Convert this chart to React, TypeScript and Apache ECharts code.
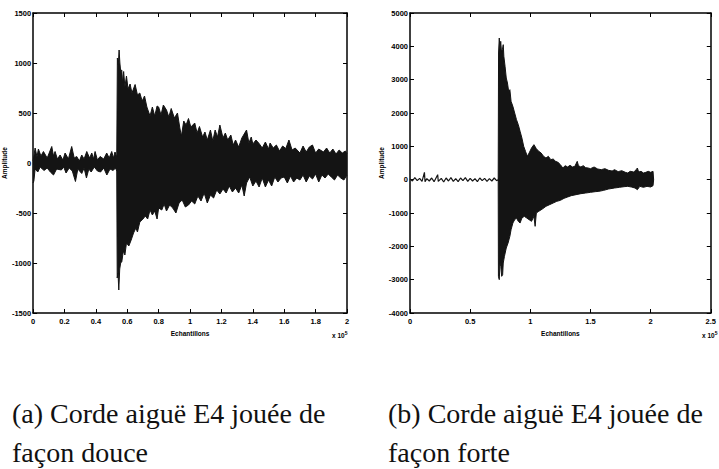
import React, { useEffect, useRef } from "react";
import * as echarts from "echarts";

// ---- Data (x in units of 10^5 samples, amplitude) ----
const leftXTicks = { min: 0, max: 2, interval: 0.2 };
const leftYTicks = { min: -1500, max: 1500, interval: 500 };
const rightXTicks = { min: 0, max: 2.5, interval: 0.5 };
const rightYTicks = { min: -4000, max: 5000, interval: 1000 };

const captionA = ["(a) Corde aiguë E4 jouée de", "façon douce"];
const captionB = ["(b) Corde aiguë E4 jouée de", "façon forte"];

// left plot (soft): upper / lower envelope of the waveform
const leftUpper: [number, number][] = [
  [0, 20], [0.013, 150], [0.025, 60], [0.034, 140], [0.05, 70], [0.066, 115], [0.09, 50], [0.119, 165],
  [0.13, 70], [0.14, 115], [0.155, 40], [0.172, 80], [0.19, 30], [0.204, 100], [0.225, 40], [0.246, 165],
  [0.262, 50], [0.278, 65], [0.295, 20], [0.31, 80], [0.325, 40], [0.342, 115], [0.36, 50], [0.374, 100],
  [0.385, 40], [0.395, 115], [0.41, 30], [0.427, 65], [0.45, 40], [0.469, 100], [0.485, 50], [0.501, 115],
  [0.512, 50], [0.522, 110], [0.533, 60],
  [0.537, 1050], [0.543, 980], [0.548, 1130], [0.553, 1000], [0.558, 920], [0.565, 930], [0.57, 800],
  [0.577, 915], [0.585, 760], [0.595, 870], [0.605, 740], [0.618, 790], [0.63, 700], [0.65, 785],
  [0.665, 680], [0.68, 700], [0.695, 620], [0.71, 670], [0.725, 560], [0.745, 470], [0.76, 560],
  [0.775, 470], [0.79, 570], [0.8, 560], [0.815, 480], [0.83, 580], [0.85, 530], [0.865, 460],
  [0.88, 545], [0.9, 450], [0.92, 500], [0.935, 350], [0.945, 270], [0.96, 420], [0.975, 380],
  [0.99, 445], [1.005, 360], [1.03, 400], [1.045, 300], [1.06, 365], [1.08, 260], [1.095, 310],
  [1.11, 230], [1.13, 330], [1.145, 220], [1.16, 330], [1.175, 260], [1.19, 380], [1.21, 250],
  [1.225, 300], [1.24, 230], [1.26, 280], [1.275, 180], [1.29, 230], [1.31, 160], [1.33, 250],
  [1.36, 330], [1.375, 200], [1.39, 260], [1.4, 190], [1.42, 230], [1.44, 195], [1.46, 150],
  [1.48, 210], [1.5, 140], [1.51, 200], [1.53, 150], [1.55, 180], [1.57, 120], [1.59, 170],
  [1.61, 145], [1.63, 230], [1.65, 130], [1.67, 150], [1.7, 100], [1.72, 170], [1.74, 110],
  [1.76, 160], [1.78, 180], [1.8, 100], [1.82, 140], [1.85, 110], [1.87, 150], [1.89, 100],
  [1.91, 140], [1.93, 90], [1.95, 130], [1.97, 100], [1.99, 120], [2.0, 90],
];
const leftLower: [number, number][] = [
  [0, -200], [0.005, -180], [0.013, -60], [0.03, -90], [0.045, -40], [0.07, -75], [0.09, -50],
  [0.11, -90], [0.13, -120], [0.15, -60], [0.18, -70], [0.195, -40], [0.21, -100], [0.23, -50],
  [0.25, -80], [0.27, -185], [0.285, -60], [0.31, -105], [0.325, -50], [0.34, -150], [0.355, -60],
  [0.37, -90], [0.39, -40], [0.41, -80], [0.43, -90], [0.45, -50], [0.47, -120], [0.49, -60],
  [0.51, -75], [0.525, -50], [0.533, -80],
  [0.536, -1150], [0.541, -1100], [0.546, -1270], [0.552, -1060], [0.558, -1000], [0.565, -990],
  [0.575, -880], [0.585, -920], [0.595, -800], [0.61, -830], [0.625, -770], [0.64, -700],
  [0.655, -650], [0.665, -690], [0.68, -590], [0.7, -560], [0.715, -530], [0.73, -560],
  [0.745, -470], [0.76, -520], [0.775, -480], [0.79, -560], [0.8, -450], [0.82, -470],
  [0.835, -410], [0.85, -480], [0.87, -420], [0.89, -450], [0.91, -500], [0.93, -400],
  [0.95, -370], [0.97, -440], [0.99, -420], [1.01, -380], [1.03, -410], [1.05, -330],
  [1.07, -380], [1.09, -300], [1.11, -400], [1.13, -320], [1.15, -350], [1.17, -270],
  [1.19, -310], [1.21, -260], [1.23, -300], [1.25, -230], [1.27, -290], [1.29, -250],
  [1.31, -300], [1.33, -220], [1.345, -330], [1.36, -200], [1.38, -140], [1.4, -230],
  [1.42, -180], [1.44, -240], [1.46, -150], [1.48, -240], [1.5, -170], [1.52, -230],
  [1.54, -140], [1.56, -190], [1.58, -150], [1.6, -140], [1.62, -200], [1.64, -130],
  [1.66, -190], [1.68, -150], [1.7, -170], [1.72, -120], [1.74, -190], [1.76, -130],
  [1.78, -160], [1.8, -110], [1.82, -190], [1.84, -120], [1.86, -150], [1.88, -110],
  [1.9, -140], [1.92, -170], [1.94, -120], [1.96, -150], [1.98, -170], [2.0, -120],
];

// right plot (strong)
const rightPre: [number, number][] = [
  [0, 20], [0.02, -40], [0.04, 60], [0.06, -30], [0.08, 40], [0.1, -50], [0.12, 220], [0.125, -60],
  [0.14, 30], [0.16, -40], [0.18, 50], [0.2, -60], [0.23, 150], [0.235, -50], [0.26, 40], [0.28, -70],
  [0.3, 50], [0.32, -40], [0.34, 60], [0.36, -50], [0.38, 30], [0.4, -60], [0.42, 50], [0.44, -30],
  [0.46, 60], [0.48, -50], [0.5, 40], [0.52, -40], [0.54, 30], [0.56, -60], [0.58, 50], [0.6, -30],
  [0.62, 40], [0.64, -50], [0.66, 30], [0.68, -40], [0.7, 50], [0.72, -30], [0.733, 0],
];
const rightUpper: [number, number][] = [
  [0.733, 0], [0.736, 3800], [0.742, 4250], [0.748, 3900], [0.754, 4150], [0.76, 3850], [0.768, 3900],
  [0.775, 4050], [0.78, 3700], [0.79, 3400], [0.8, 3050], [0.81, 2900], [0.82, 2650], [0.83, 2700],
  [0.84, 2350], [0.855, 2200], [0.87, 2000], [0.885, 1800], [0.9, 1650], [0.915, 1450], [0.93, 1250],
  [0.945, 1000], [0.96, 850], [0.975, 700], [0.99, 800], [1.01, 950], [1.03, 1050], [1.05, 930],
  [1.07, 850], [1.09, 800], [1.11, 700], [1.13, 650], [1.15, 700], [1.17, 600], [1.19, 620],
  [1.21, 550], [1.23, 520], [1.25, 450], [1.27, 350], [1.29, 420], [1.31, 380], [1.33, 430],
  [1.35, 380], [1.37, 400], [1.39, 550], [1.4, 420], [1.42, 380], [1.44, 420], [1.46, 360],
  [1.48, 350], [1.5, 330], [1.53, 380], [1.56, 320], [1.59, 300], [1.62, 330], [1.65, 280],
  [1.68, 260], [1.7, 300], [1.73, 240], [1.76, 270], [1.79, 220], [1.81, 200], [1.83, 250],
  [1.86, 230], [1.88, 300], [1.89, 350], [1.9, 230], [1.92, 250], [1.94, 200], [1.96, 220],
  [1.98, 250], [2.0, 220], [2.02, 250], [2.025, 0],
];
const rightLower: [number, number][] = [
  [0.733, 0], [0.735, -2900], [0.742, -3000], [0.748, -2500], [0.755, -2600], [0.762, -2900],
  [0.77, -2850], [0.775, -2500], [0.785, -2300], [0.8, -2050], [0.815, -1900], [0.83, -1700],
  [0.84, -1500], [0.855, -1300], [0.87, -1200], [0.885, -1150], [0.9, -1250], [0.915, -1300],
  [0.93, -1150], [0.95, -1100], [0.97, -1150], [0.99, -1200], [1.01, -1250], [1.03, -1100],
  [1.04, -1400], [1.05, -1000], [1.07, -950], [1.1, -880], [1.13, -800], [1.16, -750], [1.19, -700],
  [1.22, -650], [1.25, -620], [1.28, -560], [1.31, -520], [1.34, -480], [1.38, -450], [1.42, -420],
  [1.46, -400], [1.5, -380], [1.54, -360], [1.57, -350], [1.61, -320], [1.65, -280], [1.7, -250],
  [1.74, -230], [1.78, -210], [1.81, -200], [1.84, -220], [1.87, -250], [1.89, -300], [1.91, -200],
  [1.94, -230], [1.97, -200], [2.0, -220], [2.02, -180], [2.025, 0],
];

const INK = "#141414";
const labelFont = { fontFamily: "Liberation Sans", fontWeight: "bold" as const, fontSize: 7.5, color: "#000" };

function axisPair(grid: number, ticks: { min: number; max: number; interval: number }, isX: boolean, name: string, nameGap: number) {
  const base = {
    type: "value",
    gridIndex: grid,
    min: ticks.min,
    max: ticks.max,
    interval: ticks.interval,
    splitLine: { show: false },
    axisLine: { show: true, onZero: false, lineStyle: { color: "#000", width: 1.5 } },
    axisTick: { show: true, inside: true, length: 4, lineStyle: { color: "#000", width: 1 } },
  };
  const main = {
    ...base,
    position: isX ? "bottom" : "left",
    axisLabel: {
      ...labelFont,
      margin: isX ? 4 : 2,
      showMinLabel: true,
      showMaxLabel: true,
      formatter: (v: number) => String(v),
    },
    name,
    nameLocation: "middle",
    nameGap,
    nameTextStyle: { ...labelFont, fontSize: 6.5 },
  };
  const mirror = {
    ...base,
    position: isX ? "top" : "right",
    axisLabel: { show: false },
  };
  return [main, mirror];
}

function serif(x: number, y: number, text: string) {
  return {
    type: "text",
    x,
    y,
    style: { text, fontFamily: "Liberation Serif", fontSize: 28, fill: "#111", verticalAlign: "middle", align: "left" },
  };
}

function expo(x: number, y: number) {
  return {
    type: "text",
    x,
    y,
    style: {
      text: "{a|x 10}{b|5}",
      align: "left",
      verticalAlign: "middle",
      rich: {
        a: { fontFamily: "Liberation Sans", fontWeight: "bold", fontSize: 6.5, fill: "#000" },
        b: { fontFamily: "Liberation Sans", fontWeight: "bold", fontSize: 5, fill: "#000", padding: [0, 0, 5, 0] },
      },
    },
  };
}

export default function App() {
  const ref = useRef<HTMLDivElement>(null);
  useEffect(() => {
    if (!ref.current) return;
    const chart = echarts.init(ref.current, null, { renderer: "svg" });
    const [lx, lxt] = axisPair(0, leftXTicks, true, "Echantillons", 12);
    const [ly, lyr] = axisPair(0, leftYTicks, false, "Amplitude", 15);
    const [rx, rxt] = axisPair(1, rightXTicks, true, "Echantillons", 12);
    const [ry, ryr] = axisPair(1, rightYTicks, false, "Amplitude", 15);
    const env = (data: [number, number][], xi: number, yi: number, origin: number) => ({
      type: "line",
      xAxisIndex: xi,
      yAxisIndex: yi,
      data,
      symbol: "none",
      lineStyle: { color: INK, width: 1 },
      areaStyle: { color: INK, opacity: 1, origin },
      z: 2,
    });
    chart.setOption({
      animation: false,
      backgroundColor: "#fff",
      grid: [
        { left: 33, top: 13, width: 314, height: 300 },
        { left: 410, top: 13, width: 307, height: 300 },
      ],
      xAxis: [lx, lxt, rx, rxt],
      yAxis: [ly, lyr, ry, ryr],
      series: [
        env(leftUpper, 0, 0, -20),
        env(leftLower, 0, 0, 20),
        { type: "line", xAxisIndex: 2, yAxisIndex: 2, data: rightPre, symbol: "none", lineStyle: { color: INK, width: 1.2 } },
        env(rightUpper, 2, 2, -60),
        env(rightLower, 2, 2, 60),
      ],
      graphic: [
        expo(332, 335),
        expo(702, 335),
        serif(12, 413, captionA[0]),
        serif(12, 452, captionA[1]),
        serif(388, 413, captionB[0]),
        serif(388, 452, captionB[1]),
      ],
    });
    return () => chart.dispose();
  }, []);
  return <div ref={ref} style={{ position: "absolute", left: 0, top: 0, width: 719, height: 469 }} />;
}
